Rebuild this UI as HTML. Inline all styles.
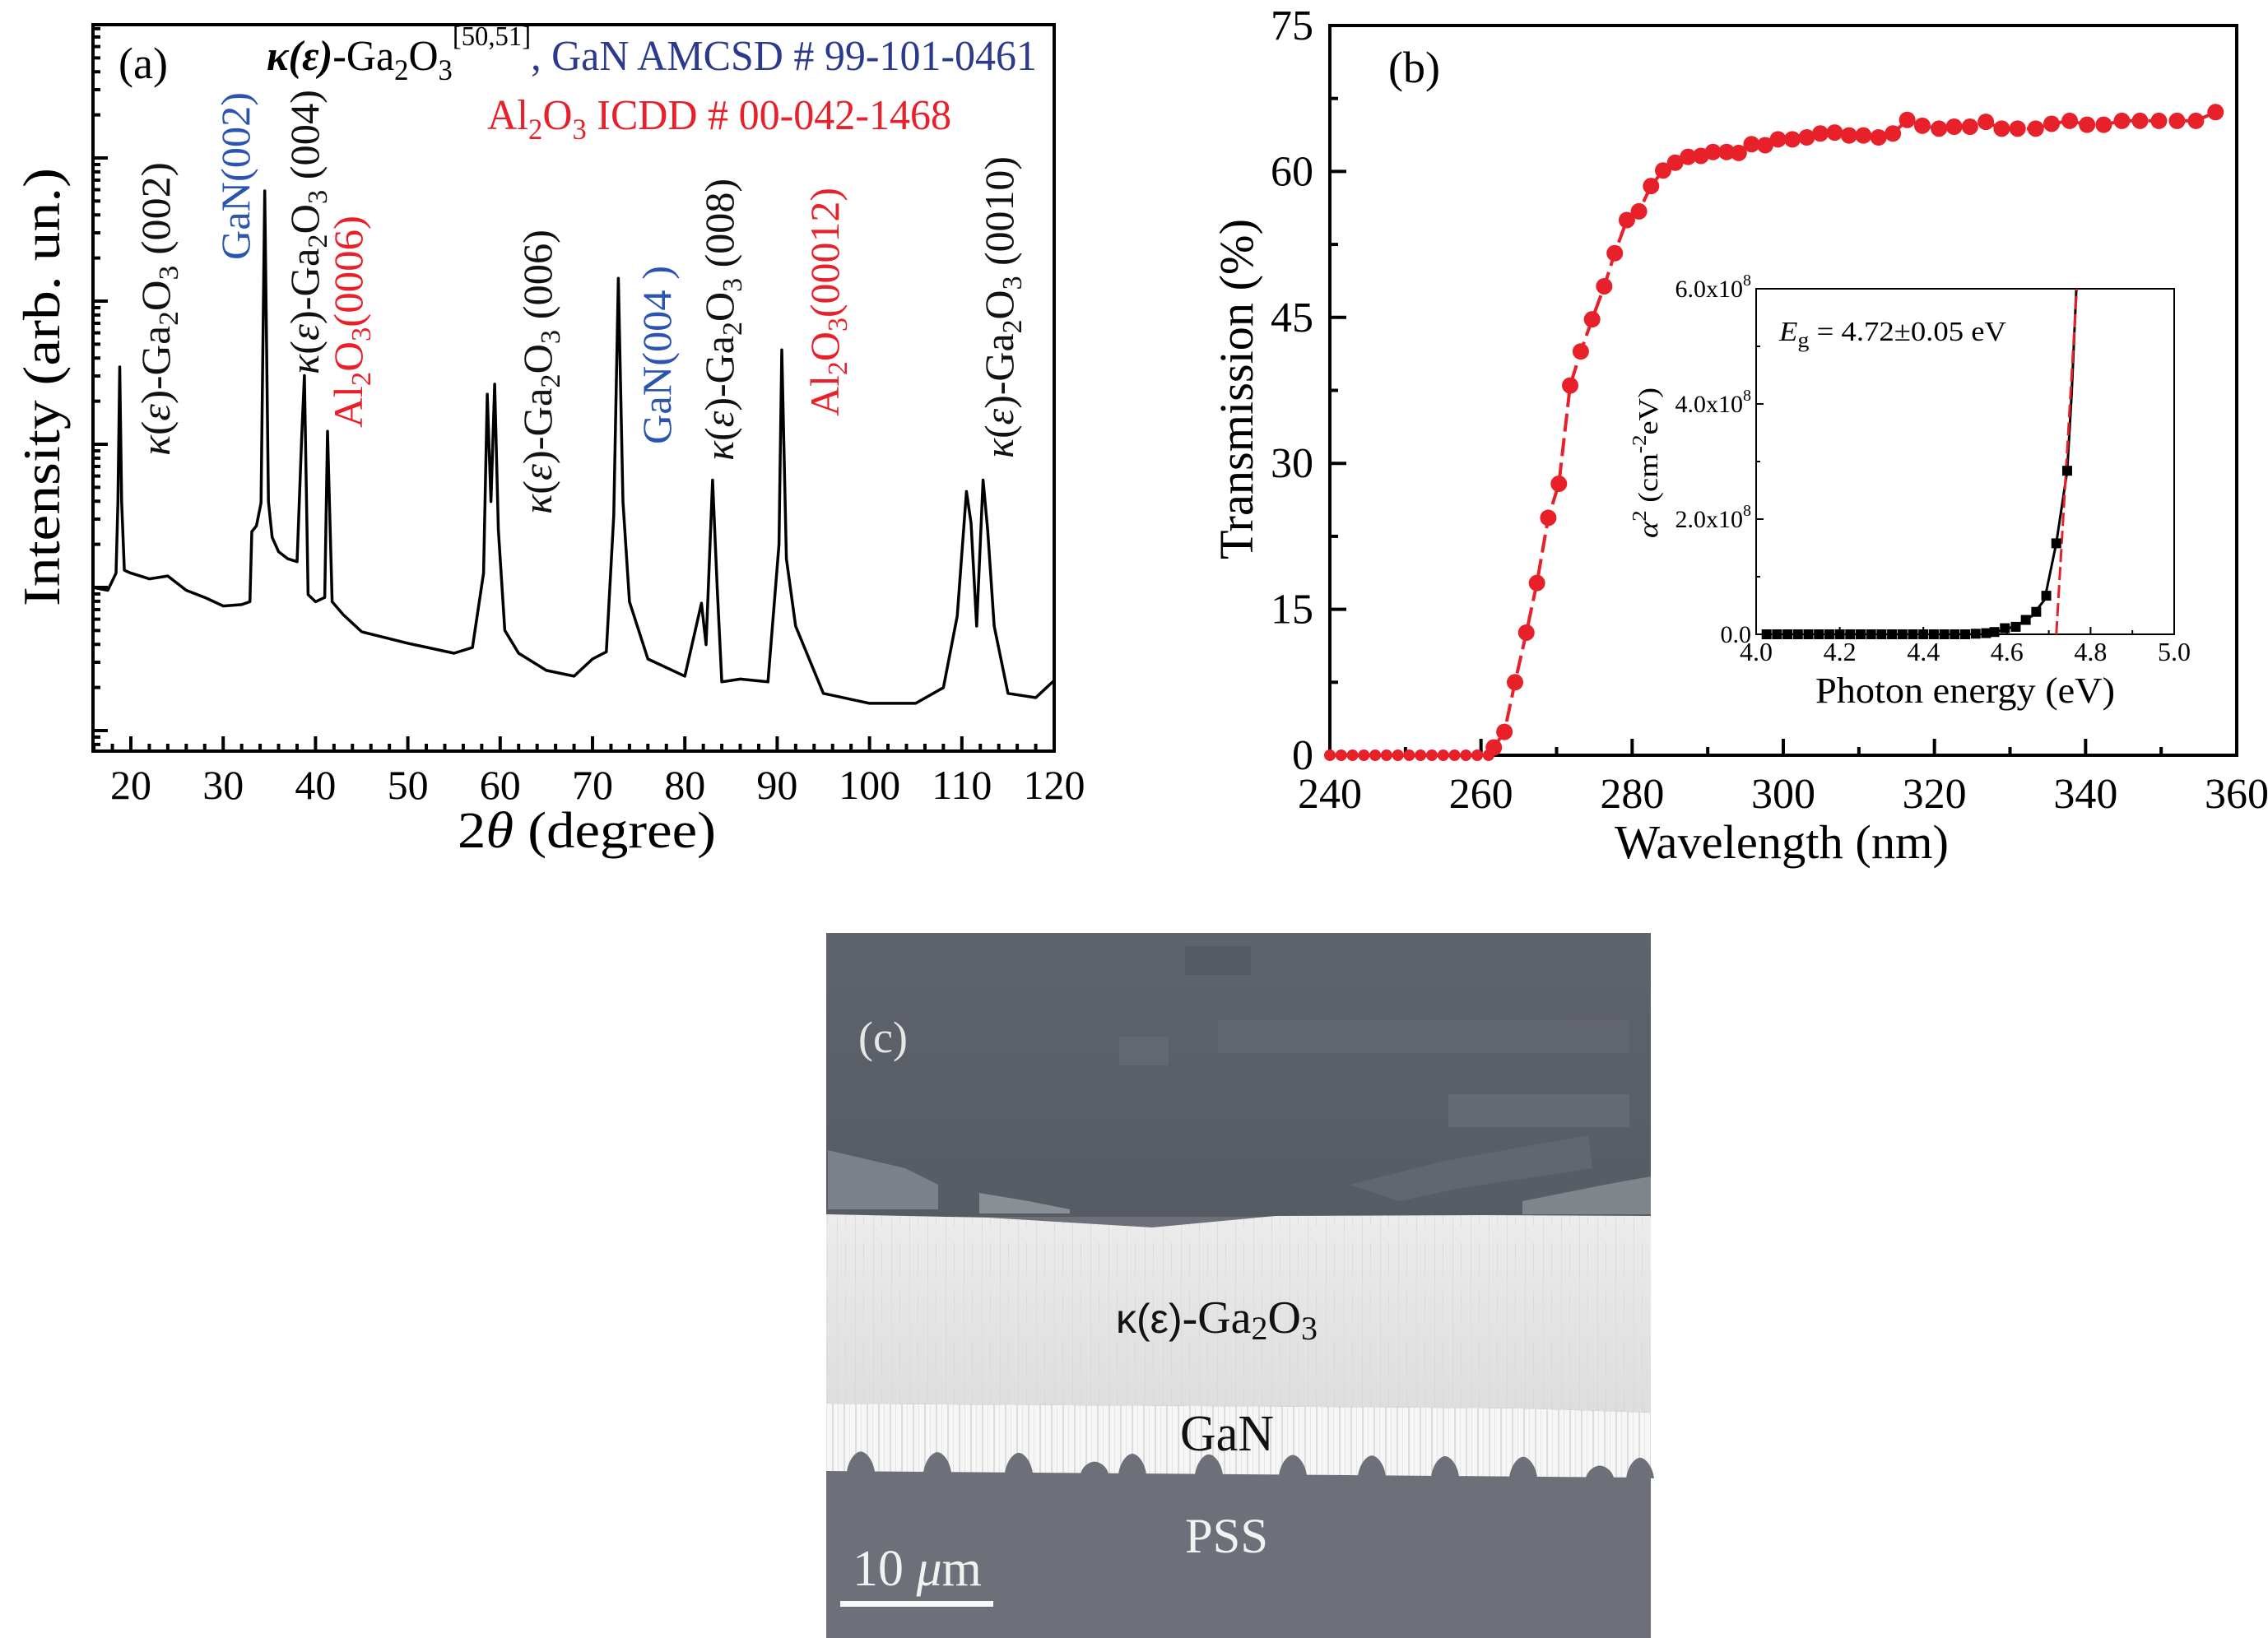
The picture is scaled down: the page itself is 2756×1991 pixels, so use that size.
<!DOCTYPE html>
<html><head><meta charset="utf-8">
<style>
html,body{margin:0;padding:0;background:#fff;}
svg{display:block;}
svg text{font-family:"Liberation Serif","DejaVu Serif",serif;}
</style></head>
<body>
<svg id="fig" xmlns="http://www.w3.org/2000/svg" width="2756" height="1991" viewBox="0 0 2756 1991" font-family="Liberation Serif, serif">
<defs>
  <linearGradient id="gTop" x1="0" y1="0" x2="0" y2="1">
    <stop offset="0" stop-color="#5f636b"/><stop offset="0.6" stop-color="#5a5e67"/><stop offset="1" stop-color="#575b63"/>
  </linearGradient>
  <linearGradient id="gGa" x1="0" y1="0" x2="0" y2="1">
    <stop offset="0" stop-color="#ececec"/><stop offset="0.5" stop-color="#e4e4e4"/><stop offset="1" stop-color="#dedede"/>
  </linearGradient>
  <pattern id="streak" width="14" height="100" patternUnits="userSpaceOnUse">
    <rect width="14" height="100" fill="#f6f6f6"/>
    <rect x="3" width="2" height="100" fill="#dcdcdc"/>
    <rect x="10" width="1" height="100" fill="#e6e6e6"/>
  </pattern>
  <pattern id="gastreak" width="22" height="60" patternUnits="userSpaceOnUse">
    <rect width="22" height="60" fill="none"/>
    <rect x="5" width="1" height="60" fill="#d6d6d6" opacity="0.6"/>
    <rect x="15" y="10" width="1" height="40" fill="#cfcfcf" opacity="0.5"/>
  </pattern>
</defs>

<g id="panelA"></g>
<g id="panelB"></g>

<g id="panelC">
  <rect x="1004" y="1134" width="1002" height="857" fill="#6d7078"/>
  <rect x="1004" y="1134" width="1002" height="345" fill="url(#gTop)"/>
  <g opacity="0.55">
    <rect x="1440" y="1150" width="80" height="35" fill="#4f535b"/>
    <rect x="1480" y="1240" width="500" height="40" fill="#666a72"/>
    <rect x="1760" y="1330" width="220" height="40" fill="#70747c"/>
    <rect x="1360" y="1260" width="60" height="35" fill="#6a6e76"/>
  </g>
  <polygon points="1006,1398 1100,1420 1140,1440 1140,1470 1006,1470" fill="#7c8088"/>
  <polygon points="1190,1450 1250,1460 1300,1470 1300,1475 1190,1475" fill="#8a8e95"/>
  <polygon points="1640,1440 1760,1410 1930,1380 1935,1420 1770,1445 1700,1460" fill="#62666e"/>
  <polygon points="1850,1460 1950,1440 2006,1430 2006,1476 1850,1476" fill="#80848b"/>
  <path d="M1004,1476 L1200,1480 L1400,1492 L1550,1478 L1800,1477 L2006,1478 L2006,1717 L1850,1712 L1600,1710 L1300,1708 L1004,1706 Z" fill="url(#gGa)"/>
  <path d="M1004,1476 L1200,1480 L1400,1492 L1550,1478 L1800,1477 L2006,1478 L2006,1717 L1850,1712 L1600,1710 L1300,1708 L1004,1706 Z" fill="url(#gastreak)"/>
  <path d="M1004,1706 L1300,1708 L1600,1710 L1850,1712 L2006,1717 L2006,1796 L1004,1788 Z" fill="url(#streak)"/>
  <g id="domes" fill="#6d7078"></g>
  <text x="1043" y="1279" font-size="54" fill="#e6e6e6" font-family="Liberation Serif, serif">(c)</text>
  <text x="1356" y="1620" font-size="56" fill="#111" font-family="Liberation Serif, serif"><tspan font-family="Liberation Sans, sans-serif" font-size="50">κ(ε)</tspan>-Ga<tspan font-size="40" dy="8">2</tspan><tspan dy="-8">O</tspan><tspan font-size="40" dy="8">3</tspan></text>
  <text x="1434" y="1763" font-size="62" fill="#111" font-family="Liberation Serif, serif" textLength="114" lengthAdjust="spacingAndGlyphs">GaN</text>
  <text x="1440" y="1887" font-size="60" fill="#f2f2f2" font-family="Liberation Serif, serif" textLength="101" lengthAdjust="spacingAndGlyphs">PSS</text>
  <text x="1036" y="1927" font-size="62" fill="#f2f2f2" font-family="Liberation Serif, serif">10 <tspan font-style="italic">μ</tspan>m</text>
  <rect x="1021" y="1946" width="186" height="7" fill="#fafafa"/>
</g>
</svg>

<script>
// ---------- Panel A data (XRD, log10 intensity arb. units) ----------
const xrdAngle = [15.9,17.5,18.4,18.6,18.8,19.0,19.3,20,22,24,26,28,30,32,32.9,33.1,33.6,34.1,34.5,34.9,35.3,36,37,38,38.5,38.8,39.2,40,41,41.3,41.8,43,45,50,55,57,58.2,58.6,59.0,59.4,59.8,60.5,62,65,68,70,71.5,72.3,72.8,73.3,74,76,80,81.8,82.3,83.0,83.5,84,86,89,90.2,90.5,91,92,95,100,105,108,109.5,110.5,111,111.6,112.3,112.8,113.5,115,118,120];
const xrdLogI = [2.0,1.98,2.1,2.6,3.54,2.6,2.12,2.1,2.06,2.08,1.98,1.93,1.87,1.88,1.9,2.39,2.43,2.59,4.77,2.6,2.35,2.25,2.2,2.18,3.05,3.48,1.95,1.9,1.93,3.09,1.9,1.81,1.69,1.61,1.54,1.58,2.1,3.35,2.6,3.42,2.4,1.7,1.54,1.42,1.38,1.5,1.55,2.5,4.16,2.6,1.9,1.5,1.38,1.89,1.6,2.75,2.0,1.34,1.36,1.34,2.3,3.66,2.2,1.73,1.26,1.19,1.19,1.3,1.8,2.67,2.45,1.73,2.75,2.4,1.73,1.26,1.23,1.35];
const xrdTicksMajor = [20,30,40,50,60,70,80,90,100,110,120];
const xrdLogTicks = [1,2,3,4,5];

// ---------- Panel B data ----------
const wl = [240,241.5,243,244.5,246,247.5,249,250.5,252,253.5,255,256.5,258,259.5,261,261.7,263.1,264.5,266,267.4,268.9,270.3,271.8,273.2,274.7,276.3,277.7,279.3,280.9,282.5,284.1,285.7,287.4,289.1,290.7,292.5,294.1,295.8,297.6,299.3,301.2,303.1,304.9,306.8,308.7,310.6,312.6,314.5,316.4,318.4,320.6,322.6,324.7,326.8,328.9,331.0,333.4,335.5,337.9,340.2,342.4,344.8,347.2,349.7,352.1,354.6,357.2];
const trans = [0,0,0,0,0,0,0,0,0,0,0,0,0,0,0,0.8,2.4,7.5,12.6,17.7,24.4,27.9,38.0,41.5,44.8,48.2,51.6,55.0,55.9,58.5,60.1,60.9,61.5,61.6,62.0,62.0,61.9,62.8,62.7,63.3,63.3,63.5,63.9,64.0,63.7,63.7,63.5,63.9,65.3,64.7,64.4,64.6,64.6,65.1,64.4,64.4,64.4,64.9,65.2,64.8,64.8,65.2,65.2,65.2,65.2,65.2,66.1];
const wlTicks = [240,260,280,300,320,340,360];
const tTicks = [0,15,30,45,60,75];

// ---------- Inset data ----------
const eV = [4.025,4.05,4.075,4.1,4.125,4.15,4.175,4.2,4.225,4.25,4.275,4.3,4.325,4.35,4.375,4.4,4.425,4.45,4.475,4.5,4.525,4.55,4.57,4.595,4.621,4.645,4.67,4.694,4.718,4.744];
const alpha2 = [0,0,0,0,0,0,0,0,0,0,0,0,0,0,0,0,0,0,0,0,0.01,0.02,0.04,0.106,0.13,0.25,0.39,0.67,1.58,2.84];
const fitCurveE = [4.57,4.6,4.63,4.66,4.69,4.718,4.744,4.755,4.766];
const fitCurveA = [0.04,0.09,0.18,0.32,0.6,1.58,2.84,4.2,6.0];
const linFitE = [4.718,4.767];
const linFitA = [0,6.0];
const insetXTicks = [4.0,4.2,4.4,4.6,4.8,5.0];
const insetYTicks = [0,2,4,6];

const NS = "http://www.w3.org/2000/svg";
function mk(tag, attrs, parent){
  const e=document.createElementNS(NS,tag);
  if(tag==='text') e.setAttribute('font-family','Liberation Serif, serif');
  for(const k in attrs)e.setAttribute(k,attrs[k]);
  parent.appendChild(e);return e;
}

// ===== Panel A =====
(function(){
  const g = document.getElementById('panelA');
  const L=113,R=1281,T=30,B=913;
  const xmin=15.9,xmax=120;
  const X = v => L+(v-xmin)/(xmax-xmin)*(R-L);
  const D=174, y1=888;
  const Y = lv => y1-(lv-1)*D;
  const frame = mk('rect',{x:L,y:T,width:R-L,height:B-T,fill:'none',stroke:'#000','stroke-width':4},g);
  
  
  for(let v=16; v<=120; v+=2){
    const major = v%10===0;
    const t = mk('line',{x1:X(v),x2:X(v),y1:B,y2:B-(major?18:9),stroke:'#000','stroke-width':4},g);
    
    
  }
  xrdTicksMajor.forEach(v=>{
    const t = mk('text',{x:X(v),y:971,'font-size':50,'text-anchor':'middle'},g);
    t.textContent=v;
    
    
  });
  for(let d=0; d<=5; d++){
    for(let m=1;m<=9;m++){
      const lv = d+Math.log10(m);
      const y=Y(lv);
      if(y<T+2||y>B-2) continue;
      const t = mk('line',{x1:L,x2:L+(m===1?18:9),y1:y,y2:y,stroke:'#000','stroke-width':4},g);
      
      
    }
  }
  const d = xrdAngle.map((a,i)=>(i?'L':'M')+X(a).toFixed(1)+','+Y(xrdLogI[i]).toFixed(1)).join(' ');
  const c = mk('path',{d:d,fill:'none',stroke:'#000','stroke-width':3.5,'stroke-linejoin':'round'},g);
  
  

  const yt = mk('text',{transform:'translate(72,737) rotate(-90)','font-size':64,textLength:533,lengthAdjust:'spacingAndGlyphs'},g);
  yt.textContent='Intensity (arb. un.)';
  
  
  const xt = mk('text',{x:556,y:1030,'font-size':62,textLength:314,lengthAdjust:'spacingAndGlyphs'},g);
  xt.innerHTML='2<tspan font-style="italic">θ</tspan> (degree)';
  
  
  const pa = mk('text',{x:144,y:95,'font-size':54},g);
  pa.textContent='(a)';
  
  

  const h1 = mk('text',{x:324,y:85,'font-size':52,textLength:936,lengthAdjust:'spacingAndGlyphs'},g);
  h1.innerHTML='<tspan font-weight="bold" font-style="italic">κ(ε)</tspan>-Ga<tspan font-size="36" dy="12">2</tspan><tspan dy="-12">O</tspan><tspan font-size="36" dy="12">3</tspan><tspan font-size="34" dy="-42">[50,51]</tspan><tspan dy="30" fill="#2b3a8c">, GaN AMCSD # 99-101-0461</tspan>';
  
  
  const h2 = mk('text',{x:592,y:157,'font-size':52,fill:'#e8202a',textLength:564,lengthAdjust:'spacingAndGlyphs'},g);
  h2.innerHTML='Al<tspan font-size="36" dy="12">2</tspan><tspan dy="-12">O</tspan><tspan font-size="36" dy="12">3</tspan><tspan dy="-12"> ICDD # 00-042-1468</tspan>';
  
  

  const kGa = '<tspan font-style="italic">κ</tspan>(<tspan font-style="italic">ε</tspan>)-Ga<tspan font-size="34" dy="10">2</tspan><tspan dy="-10">O</tspan><tspan font-size="34" dy="10">3</tspan><tspan dy="-10">';
  const al = 'Al<tspan font-size="34" dy="10">2</tspan><tspan dy="-10">O</tspan><tspan font-size="34" dy="10">3</tspan><tspan dy="-10">';
  const peaks = [
    [206,554,357,'#111',kGa+' (002)</tspan>','peak-label-002'],
    [303,316,204,'#2b54b0','GaN(002)','peak-label-gan002'],
    [387,455,346,'#111',kGa+' (004)</tspan>','peak-label-004'],
    [440,520,258,'#e8202a',al+'(0006)</tspan>','peak-label-al0006'],
    [670,625,346,'#111',kGa+' (006)</tspan>','peak-label-006'],
    [815,540,217,'#2b54b0','GaN(004 )','peak-label-gan004'],
    [891,560,343,'#111',kGa+' (008)</tspan>','peak-label-008'],
    [1019,506,278,'#e8202a',al+'(00012)</tspan>','peak-label-al00012'],
    [1231,557,367,'#111',kGa+' (0010)</tspan>','peak-label-0010']
  ];
  peaks.forEach(p=>{
    const t = mk('text',{transform:`translate(${p[0]},${p[1]}) rotate(-90)`,'font-size':50,fill:p[3],textLength:p[2],lengthAdjust:'spacingAndGlyphs'},g);
    t.innerHTML=p[4];
    
    
  });
})();

// ===== Panel B =====
(function(){
  const g=document.getElementById('panelB');
  const L=1616,R=2718,T=31,B=918;
  const X=v=>L+(v-240)/120*(R-L);
  const Y=v=>B-v/75*(B-T);
  const f=mk('rect',{x:L,y:T,width:R-L,height:B-T,fill:'none',stroke:'#000','stroke-width':4},g);
  
  
  for(let v=240;v<=360;v+=10){
    const major=v%20===0;
    const t=mk('line',{x1:X(v),x2:X(v),y1:B,y2:B-(major?20:10),stroke:'#000','stroke-width':4},g);
    
    
  }
  for(let v=0;v<=75;v+=7.5){
    const major=v%15===0;
    const t=mk('line',{x1:L,x2:L+(major?20:10),y1:Y(v),y2:Y(v),stroke:'#000','stroke-width':4},g);
    
    
  }
  wlTicks.forEach(v=>{
    const t=mk('text',{x:X(v),y:982,'font-size':52,'text-anchor':'middle'},g);
    t.textContent=v;
    
    
  });
  tTicks.forEach(v=>{
    const t=mk('text',{x:1596,y:Y(v)+17,'font-size':52,'text-anchor':'end'},g);
    t.textContent=v;
    
    
  });
  const ln=mk('path',{d:wl.map((w,i)=>(i?'L':'M')+X(w).toFixed(1)+','+Y(trans[i]).toFixed(1)).join(' '),fill:'none',stroke:'#e8202a','stroke-width':4,'stroke-dasharray':'22 8'},g);
  
  
  wl.forEach((w,i)=>{
    const c=mk('circle',{cx:X(w),cy:Y(trans[i]),r:trans[i]<0.5?7:10,fill:'#e8202a'},g);
    
    
  });
  const xt=mk('text',{x:1962,y:1043,'font-size':58,textLength:406,lengthAdjust:'spacingAndGlyphs'},g);
  xt.textContent='Wavelength (nm)';
  
  
  const yt=mk('text',{transform:'translate(1522,680) rotate(-90)','font-size':58,textLength:414,lengthAdjust:'spacingAndGlyphs'},g);
  yt.textContent='Transmission (%)';
  
  
  const pb=mk('text',{x:1687,y:100,'font-size':54},g);
  pb.textContent='(b)';
  
  

  const iL=2134,iR=2642,iT=351,iB=771;
  const IX=v=>iL+(v-4)/1*(iR-iL);
  const IY=v=>iB-v/6*(iB-iT);
  const fr=mk('rect',{x:iL,y:iT,width:iR-iL,height:iB-iT,fill:'#fff',stroke:'#000','stroke-width':2},g);
  
  
  for(let v=4.0;v<=5.001;v+=0.1){
    const major=Math.round(v*10)%2===0;
    const t=mk('line',{x1:IX(v),x2:IX(v),y1:iB,y2:iB-(major?9:5),stroke:'#000','stroke-width':2},g);
    
    
  }
  for(let v=0;v<=6;v+=1){
    const t=mk('line',{x1:iL,x2:iL+(v%2===0?9:5),y1:IY(v),y2:IY(v),stroke:'#000','stroke-width':2},g);
    
    
  }
  insetXTicks.forEach(v=>{
    const t=mk('text',{x:IX(v),y:803,'font-size':32,'text-anchor':'middle'},g);
    t.textContent=v.toFixed(1);
    
    
  });
  insetYTicks.forEach(v=>{
    const t=mk('text',{x:2128,y:IY(v)+10,'font-size':30,'text-anchor':'end'},g);
    t.innerHTML = v===0 ? '0.0' : v.toFixed(1)+'x10<tspan font-size="20" dy="-14">8</tspan>';
    
    
  });
  const fc=mk('path',{d:fitCurveE.map((e,i)=>(i?'L':'M')+IX(e).toFixed(1)+','+IY(fitCurveA[i]).toFixed(1)).join(' '),fill:'none',stroke:'#000','stroke-width':3},g);
  
  
  const lf=mk('line',{x1:IX(linFitE[0]),y1:IY(linFitA[0]),x2:IX(linFitE[1]),y2:IY(linFitA[1]),stroke:'#e8202a','stroke-width':3,'stroke-dasharray':'16 6'},g);
  
  
  eV.forEach((e,i)=>{
    const s=mk('rect',{x:IX(e)-6,y:IY(alpha2[i])-6,width:12,height:12,fill:'#000'},g);
    
    
  });
  const et=mk('text',{x:2162,y:414,'font-size':34,textLength:276,lengthAdjust:'spacingAndGlyphs'},g);
  et.innerHTML='<tspan font-style="italic">E</tspan><tspan font-size="26" dy="8">g</tspan><tspan dy="-8"> = 4.72±0.05 eV</tspan>';
  
  
  const ixt=mk('text',{x:2206,y:854,'font-size':44,textLength:364,lengthAdjust:'spacingAndGlyphs'},g);
  ixt.textContent='Photon energy (eV)';
  
  
  const iyt=mk('text',{transform:'translate(2014,654) rotate(-90)','font-size':34,textLength:183,lengthAdjust:'spacingAndGlyphs'},g);
  iyt.innerHTML='<tspan font-style="italic">α</tspan><tspan font-size="24" dy="-14">2</tspan><tspan dy="14"> (cm</tspan><tspan font-size="24" dy="-14">-2</tspan><tspan dy="14">eV)</tspan>';
  
  
})();

// ===== SEM domes =====
(function(){
  const g=document.getElementById('domes');
  const domeX=[1046,1139,1238,1330,1376,1469,1571,1667,1756,1851,1944,1993];
  domeX.forEach((x,i)=>{
    const base = 1788 + (x-1004)/1002*8;
    const h = (i===3||i===10)?14:24;
    const p=mk('path',{d:`M${x-17},${base+1} C${x-15},${base-h*0.6} ${x-6},${base-h} ${x},${base-h} C${x+6},${base-h} ${x+15},${base-h*0.6} ${x+17},${base+1} Z`},g);
    
    
  });
})();
</script>
</body></html>
